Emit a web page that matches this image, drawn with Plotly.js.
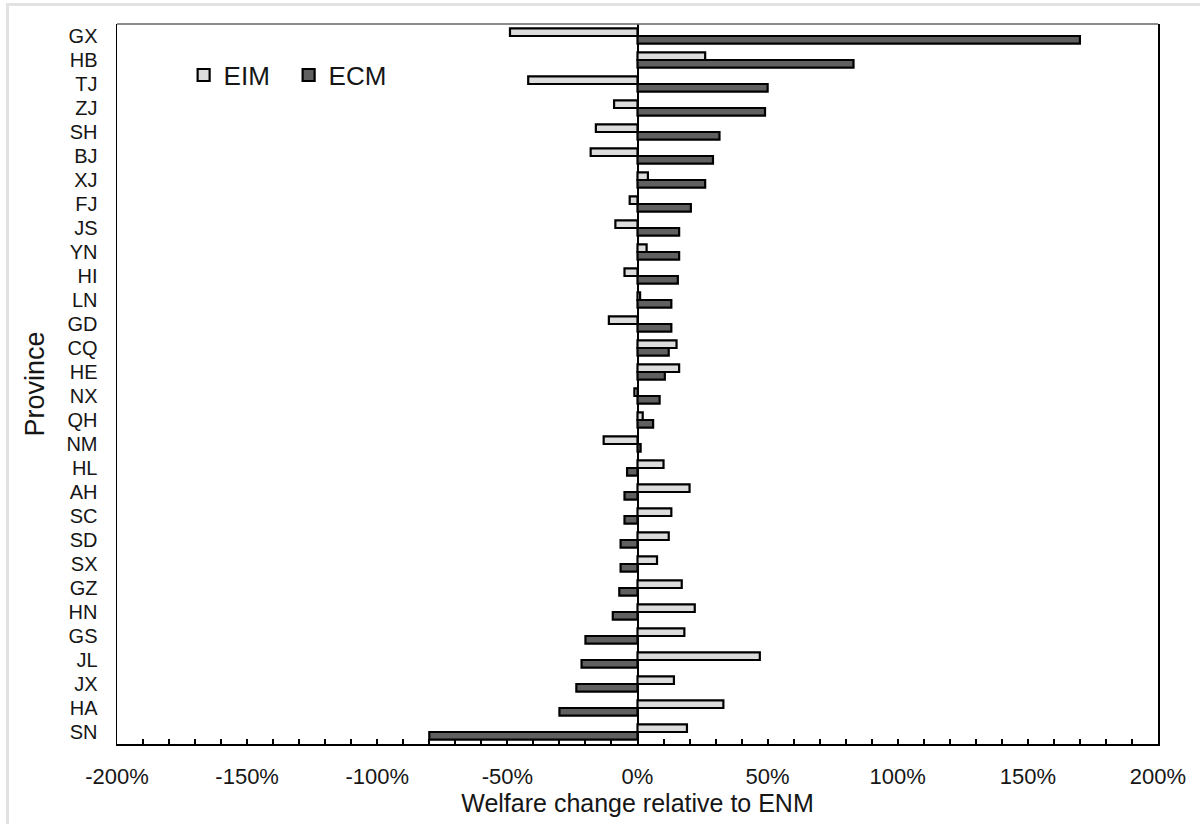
<!DOCTYPE html>
<html>
<head>
<meta charset="utf-8">
<script src="https://cdn.plot.ly/plotly-3.0.1.min.js"></script>
<style>
  html, body { margin: 0; padding: 0; background: #ffffff; }
  #chart { width: 1200px; height: 824px; }
  #frame { position: absolute; left: 6px; top: 3px; width: 1194px; height: 821px;
           border-left: 3px solid #e2e2e2; border-top: 3px solid #e2e2e2;
           pointer-events: none; box-sizing: border-box; }
</style>
</head>
<body>
<div id="chart"></div>
<div id="frame"></div>
<script>
const provinces = ["GX","HB","TJ","ZJ","SH","BJ","XJ","FJ","JS","YN","HI","LN","GD","CQ","HE",
                   "NX","QH","NM","HL","AH","SC","SD","SX","GZ","HN","GS","JL","JX","HA","SN"];
const eimValues = [-49, 26, -42, -9, -16, -18, 4, -3, -8.5, 3.5, -5, 1, -11, 15, 16,
                   -1.2, 2, -13, 10, 20, 13, 12, 7.5, 17, 22, 18, 47, 14, 33, 19];
const ecmValues = [170, 83, 50, 49, 31.5, 29, 26, 20.5, 16, 16, 15.5, 13, 13, 12, 10.5,
                   8.5, 6, 1.2, -4, -5, -5, -6.5, -6.5, -7, -9.5, -20, -21.5, -23.5, -30, -80];
const xTickVals = [-200, -150, -100, -50, 0, 50, 100, 150, 200];
const xTickText = ["-200%", "-150%", "-100%", "-50%", "0%", "50%", "100%", "150%", "200%"];
const seriesNames = ["EIM", "ECM"];

const font = "Liberation Sans, Arial, sans-serif";
const textColor = "#161616";

const traces = [
  {
    type: "bar", orientation: "h", name: seriesNames[0],
    y: provinces, x: eimValues,
    marker: { color: "#dcdcdc", line: { color: "#000000", width: 2.2 } }
  },
  {
    type: "bar", orientation: "h", name: seriesNames[1],
    y: provinces, x: ecmValues,
    marker: { color: "#606060", line: { color: "#000000", width: 2.2 } }
  }
];

const layout = {
  width: 1200, height: 824,
  paper_bgcolor: "rgba(0,0,0,0)", plot_bgcolor: "#ffffff",
  margin: { l: 117, r: 42, t: 24, b: 80 },
  font: { family: font, color: textColor, size: 20 },
  barmode: "group", bargap: 0.36, bargroupgap: 0,
  showlegend: true,
  legend: {
    orientation: "h", x: 0.064, y: 0.929, xanchor: "left", yanchor: "middle",
    font: { family: font, size: 26, color: textColor },
    bgcolor: "rgba(0,0,0,0)", entrywidth: 60, entrywidthmode: "pixels",
    itemclick: false
  },
  xaxis: {
    range: [-200, 200], fixedrange: true,
    tickvals: xTickVals, ticktext: xTickText,
    ticks: "inside", ticklen: 5, tickwidth: 2, tickcolor: "#000000",
    minor: { dtick: 10, tick0: 0, ticks: "inside", ticklen: 5, tickwidth: 2, tickcolor: "#000000", showgrid: false },
    tickfont: { family: font, size: 22, color: textColor },
    ticklabelstandoff: 12,
    showgrid: false,
    zeroline: true, zerolinecolor: "#000000", zerolinewidth: 2,
    showline: true, linecolor: "#000000", linewidth: 2, mirror: false,
    title: { text: "Welfare change relative to ENM", font: { family: font, size: 25, color: textColor }, standoff: 6 }
  },
  yaxis: {
    type: "category", autorange: "reversed", fixedrange: true,
    ticks: "", showgrid: false, zeroline: false,
    tickfont: { family: font, size: 20, color: textColor },
    ticklabelstandoff: 14,
    showline: true, linecolor: "#000000", linewidth: 1.5, mirror: true,
    title: { text: "Province", font: { family: font, size: 27, color: textColor }, standoff: 14 }
  },
  shapes: [
    { type: "line", xref: "paper", yref: "paper", x0: 0, x1: 1, y0: 1, y1: 1,
      line: { color: "#666666", width: 1.5 } }
  ]
};

Plotly.newPlot("chart", traces, layout, { displayModeBar: false, staticPlot: true });
</script>
</body>
</html>
